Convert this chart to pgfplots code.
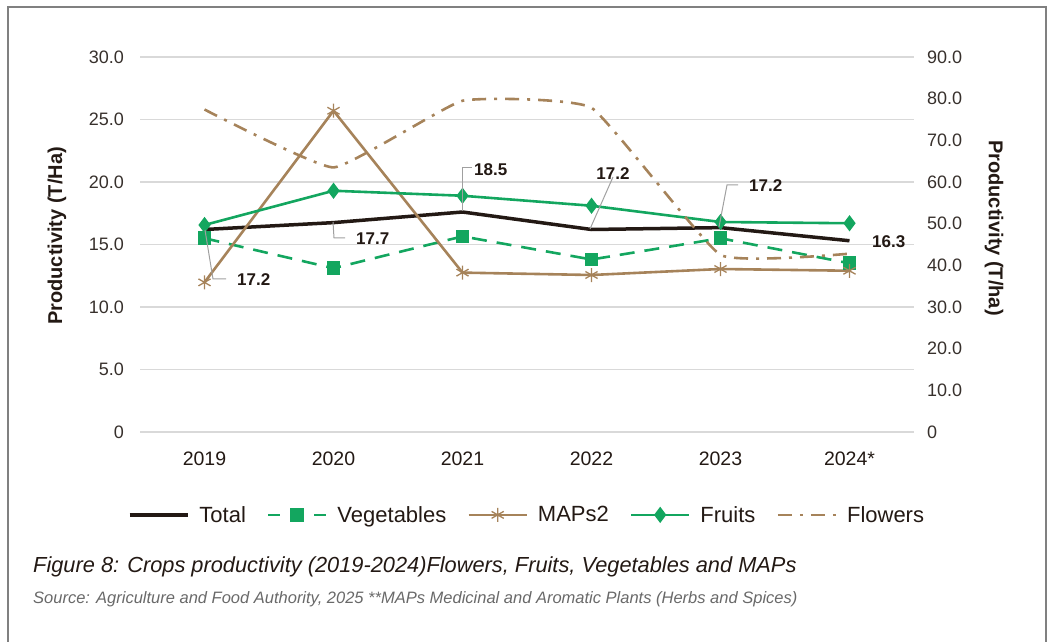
\documentclass[border=0pt]{standalone}
\usepackage{fontspec}
\setmainfont{Liberation Sans}
\usepackage{pgfplots}
\pgfplotsset{compat=1.18}
\definecolor{totalc}{RGB}{35,25,20}
\definecolor{greenc}{RGB}{19,166,95}
\definecolor{tanc}{RGB}{166,131,90}
\definecolor{gridc}{RGB}{217,217,217}
\definecolor{framec}{RGB}{128,128,128}
\definecolor{leadc}{RGB}{160,160,160}
\definecolor{tickc}{RGB}{55,48,44}
\definecolor{srcc}{RGB}{105,105,105}
\begin{document}
\begin{tikzpicture}[x=1pt,y=1pt]
\useasboundingbox (0,0) rectangle (1050,641);
\draw[framec, line width=2pt] (8,-10) -- (8,634) -- (1046,634) -- (1046,-10);
\begin{axis}[
  at={(140pt,209pt)}, anchor=south west, scale only axis,
  width=774pt, height=375pt,
  xmin=-0.5, xmax=5.5, ymin=0, ymax=30,
  xtick={0,1,2,3,4,5}, xticklabels={2019,2020,2021,2022,2023,2024*},
  ytick={0,5,10,15,20,25,30}, yticklabels={0,5.0,10.0,15.0,20.0,25.0,30.0},
  axis line style={draw=none}, major tick length=0pt,
  ymajorgrids, grid style={gridc, line width=1.2pt},
  yticklabel style={font=\fontsize{18}{21}\selectfont, text=tickc, inner sep=0pt, xshift=-16pt},
  xticklabel style={font=\fontsize{19.5}{22}\selectfont, text=totalc, inner sep=0pt, yshift=-20pt},
  legend style={draw=none, at={(0.5,-0.221)}, anchor=center,
    font=\fontsize{22}{25}\selectfont, text=totalc,
    /tikz/every even column/.append style={column sep=19pt}},
  legend columns=5,
  legend image code/.code={\draw[mark repeat=2,mark phase=2,#1] plot coordinates {(0pt,0pt) (29pt,0pt) (58pt,0pt)}; \path (66pt,0pt);},
]
\addplot[totalc, line width=3.5pt, no marks] coordinates {(0,16.2) (1,16.75) (2,17.6) (3,16.2) (4,16.35) (5,15.3)};
\addlegendentry{Total}
\addplot[greenc, line width=2.6pt, dash pattern=on 15pt off 10pt, mark=square*, mark size=5.5pt, mark options={solid},
  legend image post style={dash pattern=on 12pt off 11pt}] coordinates {(0,15.5) (1,13.1) (2,15.65) (3,13.8) (4,15.5) (5,13.5)};
\addlegendentry{Vegetables}
\addplot[tanc, line width=2.6pt, mark=asterisk, mark size=7pt, mark options={line width=1.3pt}] coordinates {(0,11.97) (1,25.7) (2,12.75) (3,12.56) (4,13.04) (5,12.9)};
\addlegendentry{MAPs2}
\addplot[greenc, line width=2.6pt, mark=diamond*, mark size=6pt] coordinates {(0,16.56) (1,19.3) (2,18.9) (3,18.1) (4,16.8) (5,16.7)};
\addlegendentry{Fruits}
\addlegendimage{tanc, line width=2.6pt, dash pattern=on 14pt off 8pt on 3pt off 8pt}
\addlegendentry{Flowers}
\end{axis}
\begin{axis}[
  at={(140pt,209pt)}, anchor=south west, scale only axis,
  width=774pt, height=375pt,
  xmin=-0.5, xmax=5.5, ymin=0, ymax=90,
  axis y line*=right, hide x axis,
  ytick={0,10,20,30,40,50,60,70,80,90}, yticklabels={0,10.0,20.0,30.0,40.0,50.0,60.0,70.0,80.0,90.0},
  axis line style={draw=none}, major tick length=0pt,
  yticklabel style={font=\fontsize{18}{21}\selectfont, text=tickc, inner sep=0pt, xshift=13pt},
]
\addplot[tanc, line width=2.6pt, no marks, smooth, tension=0.22, dash pattern=on 14pt off 8pt on 3pt off 8pt] coordinates {(0,77.4) (1,63.5) (2,79.5) (3,77.8) (4,42.5) (5,42.8)};
\end{axis}
% axis titles
\node[rotate=90, font=\fontsize{20}{24}\selectfont\bfseries, text=totalc] at (57,405) {Productivity (T/Ha)};
\node[rotate=-90, font=\fontsize{20}{24}\selectfont\bfseries, text=totalc] at (994,413) {Productivity (T/ha)};
% data labels
\begin{scope}[leadc, line width=1pt]
\draw (205,411) -- (213,362) -- (226,362);
\draw (333,419) -- (334,403) -- (345,403);
\draw (462,430) -- (462,473) -- (472,473);
\draw (590,412) -- (613,464);
\draw (719,414) -- (727,456) -- (738,456);
\end{scope}
\begin{scope}[font=\fontsize{17}{20}\selectfont\bfseries, text=totalc, inner sep=0pt]
\node[anchor=west] at (237,361) {17.2};
\node[anchor=west] at (356,402) {17.7};
\node[anchor=west] at (474,471) {18.5};
\node[anchor=center] at (613,467) {17.2};
\node[anchor=west] at (749,455) {17.2};
\node[anchor=west] at (872,399) {16.3};
\end{scope}
% caption
\node[anchor=base west, inner sep=0pt, font=\fontsize{21.8}{25}\selectfont\itshape, text=totalc] at (33,69) {Figure 8: Crops productivity (2019-2024)Flowers, Fruits, Vegetables and MAPs};
\node[anchor=base west, inner sep=0pt, font=\fontsize{16.5}{19}\selectfont\itshape, text=srcc] at (33,38) {Source: Agriculture and Food Authority, 2025 **MAPs Medicinal and Aromatic Plants (Herbs and Spices)};
\end{tikzpicture}
\end{document}
